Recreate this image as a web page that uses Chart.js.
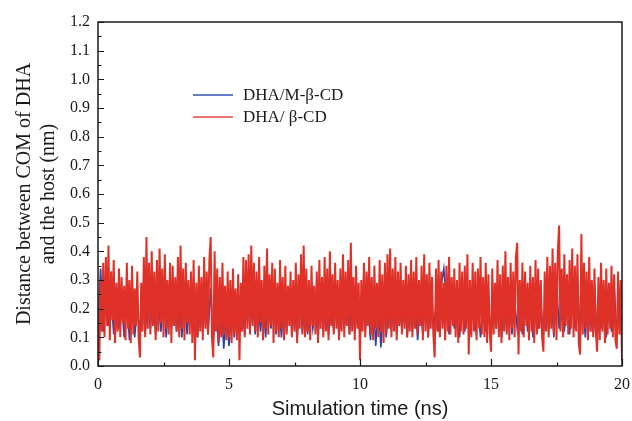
<!DOCTYPE html>
<html><head><meta charset="utf-8">
<script src="https://cdn.jsdelivr.net/npm/chart.js@4/dist/chart.umd.min.js"></script>
<style>html,body{margin:0;padding:0;background:#fff}#wrap{width:632px;height:421px}</style>
</head><body><div id="wrap"><canvas id="c" width="632" height="421"></canvas></div>
<script>
const seriesNames = ['DHA/M-\u03B2-CD', 'DHA/ \u03B2-CD'];
const redStep = 0.05;   // ns between samples of the red series
const blueStep = 0.1;   // ns between samples of the blue series
const redValues = [
0.15,0.02,0.30,0.12,0.36,0.10,0.38,0.14,0.42,0.09,0.33,0.16,0.37,0.08,0.29,0.12,0.34,0.10,0.31,0.15,
0.28,0.09,0.36,0.13,0.30,0.08,0.35,0.11,0.27,0.14,0.33,0.10,0.03,0.29,0.12,0.38,0.10,0.45,0.13,0.36,
0.11,0.40,0.14,0.33,0.09,0.37,0.12,0.41,0.15,0.34,0.10,0.39,0.13,0.30,0.11,0.36,0.08,0.35,0.14,0.31,
0.12,0.38,0.10,0.42,0.13,0.34,0.09,0.36,0.15,0.30,0.11,0.33,0.08,0.37,0.02,0.29,0.10,0.35,0.12,0.31,
0.09,0.38,0.13,0.33,0.11,0.37,0.45,0.10,0.03,0.40,0.12,0.34,0.08,0.31,0.10,0.36,0.11,0.28,0.09,0.33,
0.10,0.30,0.08,0.34,0.11,0.27,0.09,0.32,0.02,0.29,0.12,0.38,0.10,0.37,0.13,0.39,0.11,0.42,0.14,0.36,
0.12,0.33,0.10,0.38,0.15,0.30,0.09,0.35,0.13,0.41,0.11,0.32,0.14,0.36,0.08,0.34,0.12,0.29,0.10,0.37,
0.13,0.31,0.09,0.35,0.11,0.28,0.14,0.33,0.10,0.30,0.12,0.36,0.08,0.32,0.13,0.39,0.11,0.42,0.10,0.34,
0.12,0.30,0.09,0.35,0.14,0.28,0.11,0.33,0.08,0.37,0.13,0.31,0.10,0.38,0.12,0.34,0.09,0.40,0.14,0.32,
0.11,0.36,0.13,0.30,0.09,0.34,0.12,0.39,0.10,0.33,0.14,0.37,0.11,0.43,0.12,0.31,0.09,0.35,0.13,0.29,
0.02,0.30,0.12,0.36,0.10,0.33,0.14,0.38,0.11,0.31,0.09,0.35,0.13,0.29,0.10,0.37,0.12,0.32,0.08,0.36,
0.11,0.39,0.13,0.41,0.10,0.34,0.12,0.38,0.09,0.33,0.14,0.36,0.11,0.30,0.13,0.35,0.10,0.32,0.12,0.37,
0.10,0.33,0.13,0.38,0.11,0.30,0.14,0.35,0.09,0.39,0.12,0.32,0.10,0.36,0.13,0.31,0.11,0.03,0.34,0.12,
0.37,0.10,0.33,0.13,0.29,0.09,0.35,0.12,0.38,0.11,0.31,0.14,0.34,0.10,0.30,0.08,0.36,0.12,0.33,0.11,
0.35,0.13,0.39,0.04,0.30,0.10,0.36,0.12,0.33,0.09,0.34,0.13,0.38,0.11,0.31,0.10,0.36,0.08,0.32,0.12,
0.05,0.34,0.11,0.29,0.13,0.37,0.10,0.32,0.08,0.35,0.12,0.40,0.11,0.31,0.09,0.36,0.13,0.33,0.10,0.38,
0.43,0.04,0.30,0.12,0.36,0.10,0.33,0.14,0.29,0.09,0.35,0.12,0.31,0.08,0.37,0.11,0.34,0.13,0.30,0.10,
0.05,0.33,0.12,0.38,0.10,0.35,0.13,0.41,0.11,0.36,0.09,0.40,0.49,0.12,0.34,0.10,0.39,0.14,0.32,0.11,
0.37,0.13,0.41,0.10,0.35,0.12,0.39,0.08,0.04,0.46,0.11,0.36,0.13,0.33,0.09,0.38,0.12,0.30,0.10,0.34,
0.12,0.05,0.31,0.09,0.36,0.12,0.30,0.08,0.34,0.11,0.29,0.13,0.35,0.10,0.32,0.09,0.06,0.33,0.11,0.30,0.02
];
const blueValues = [
0.15,0.34,0.12,0.28,0.14,0.25,0.11,0.27,0.13,0.22,
0.10,0.24,0.09,0.26,0.10,0.21,0.12,0.25,0.11,0.23,
0.13,0.26,0.11,0.24,0.12,0.27,0.10,0.22,0.13,0.25,
0.12,0.23,0.10,0.26,0.11,0.24,0.13,0.21,0.10,0.25,
0.12,0.22,0.11,0.27,0.09,0.20,0.07,0.23,0.06,0.19,
0.07,0.21,0.10,0.24,0.12,0.22,0.11,0.26,0.13,0.23,
0.11,0.25,0.12,0.22,0.10,0.26,0.13,0.21,0.11,0.24,
0.10,0.23,0.12,0.27,0.11,0.22,0.09,0.25,0.12,0.21,
0.11,0.24,0.13,0.20,0.10,0.26,0.12,0.23,0.11,0.22,
0.12,0.25,0.10,0.21,0.13,0.24,0.11,0.27,0.12,0.20,
0.11,0.23,0.12,0.22,0.09,0.25,0.07,0.21,0.065,0.24,
0.10,0.22,0.12,0.26,0.11,0.21,0.13,0.24,0.10,0.23,
0.12,0.25,0.09,0.22,0.11,0.27,0.10,0.24,0.13,0.21,
0.12,0.28,0.34,0.23,0.11,0.25,0.13,0.22,0.10,0.24,
0.12,0.26,0.11,0.23,0.13,0.21,0.10,0.25,0.12,0.22,
0.11,0.24,0.13,0.27,0.10,0.22,0.12,0.25,0.11,0.23,
0.13,0.21,0.11,0.26,0.12,0.23,0.10,0.25,0.13,0.22,
0.11,0.27,0.12,0.24,0.10,0.30,0.13,0.26,0.12,0.29,
0.11,0.25,0.13,0.30,0.12,0.23,0.10,0.26,0.12,0.22,
0.11,0.25,0.13,0.23,0.10,0.26,0.12,0.28,0.11,0.24,0.20
];
const xTickLabels = ['0', '5', '10', '15', '20'];
const yTickLabels = ['0.0','0.1','0.2','0.3','0.4','0.5','0.6','0.7','0.8','0.9','1.0','1.1','1.2'];
const xTitle = 'Simulation time (ns)';
const yTitle = ['Distance between COM of DHA', 'and the host (nm)'];

const BLUE = '#2b44a6', RED = '#df3127', INK = '#1a1a1a';
const toPoints = (vals, step) => vals.map((v, i) => ({ x: +(i * step).toFixed(3), y: v }));

const framePlugin = {
  id: 'frame',
  afterDatasetsDraw(chart) {
    const { ctx, chartArea: a, scales: { x, y } } = chart;
    ctx.save();
    ctx.strokeStyle = INK;
    ctx.lineWidth = 1.5;
    ctx.strokeRect(a.left, a.top, a.right - a.left, a.bottom - a.top);
    ctx.lineWidth = 1.2;
    ctx.beginPath();
    for (let k = 0; k <= 24; k++) {
      const v = k * 0.05;
      const py = Math.round(y.getPixelForValue(v)) + 0.5;
      const len = k % 2 === 0 ? 6 : 3.5;
      ctx.moveTo(a.left, py); ctx.lineTo(a.left + len, py);
    }
    for (let k = 0; k <= 8; k++) {
      const v = k * 2.5;
      const px = Math.round(x.getPixelForValue(v)) + 0.5;
      const len = k % 2 === 0 ? 7 : 3.5;
      ctx.moveTo(px, a.bottom); ctx.lineTo(px, a.bottom - len);
    }
    ctx.stroke();
    // legend
    const lx = a.left + 95, ly = a.top + 73, gap = 22;
    const items = [[seriesNames[0], '#3550b2'], [seriesNames[1], '#e4463f']];
    ctx.font = '17px "Liberation Serif", "Times New Roman", serif';
    ctx.textBaseline = 'middle';
    items.forEach(([t, c], i) => {
      const yy = ly + i * gap;
      ctx.strokeStyle = c; ctx.lineWidth = 1.5;
      ctx.beginPath(); ctx.moveTo(lx, yy); ctx.lineTo(lx + 40, yy); ctx.stroke();
      ctx.fillStyle = INK; ctx.fillText(t, lx + 50, yy + 1);
    });
    ctx.restore();
  }
};

new Chart(document.getElementById('c'), {
  type: 'line',
  data: {
    datasets: [
      { label: seriesNames[0], data: toPoints(blueValues, blueStep), borderColor: BLUE, borderWidth: 1.6, pointRadius: 0, tension: 0, order: 2 },
      { label: seriesNames[1], data: toPoints(redValues, redStep), borderColor: RED, borderWidth: 2, pointRadius: 0, tension: 0, order: 1 }
    ]
  },
  options: {
    responsive: false,
    animation: false,
    layout: { padding: { top: 22, right: 10, left: 0, bottom: 0 } },
    plugins: { legend: { display: false }, tooltip: { enabled: false } },
    scales: {
      x: {
        type: 'linear', min: 0, max: 20,
        afterBuildTicks: s => { s.ticks = xTickLabels.map(t => ({ value: +t })); },
        afterFit: s => { s.height = 55; s.paddingRight = 0; s.paddingLeft = 0; },
        grid: { display: false, drawTicks: false },
        border: { display: false },
        ticks: { color: INK, padding: 9, font: { family: '"Liberation Serif", serif', size: 16 }, callback: (v) => xTickLabels[xTickLabels.indexOf(String(v))] ?? '' },
        title: { display: true, text: xTitle, color: INK, font: { family: '"Liberation Sans", Arial, sans-serif', size: 20 }, padding: { top: 0, bottom: 0 } }
      },
      y: {
        type: 'linear', min: 0, max: 1.2,
        afterBuildTicks: s => { s.ticks = yTickLabels.map(t => ({ value: +t })); },
        afterFit: s => { s.width = 98; s.paddingTop = 0; s.paddingBottom = 0; },
        grid: { display: false, drawTicks: false },
        border: { display: false },
        ticks: { color: INK, padding: 8, font: { family: '"Liberation Serif", serif', size: 16 }, callback: (v) => yTickLabels[Math.round(v * 10)] },
        title: { display: true, text: yTitle, color: INK, font: { family: '"Liberation Serif", serif', size: 20, lineHeight: 1.2 }, padding: { top: 13, bottom: 0 } }
      }
    }
  },
  plugins: [framePlugin]
});
</script></body></html>
